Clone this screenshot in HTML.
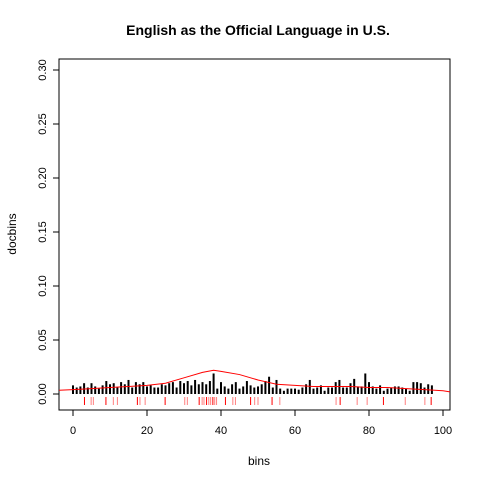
<!DOCTYPE html>
<html><head><meta charset="utf-8"><style>
body{margin:0;background:#fff}
svg{display:block;font-family:"Liberation Sans",sans-serif}
</style></head><body>
<svg id="c" width="480" height="480">
<text x="258" y="35" text-anchor="middle" font-size="14" font-weight="bold">English as the Official Language in U.S.</text>
<rect x="59" y="59" width="391" height="351" fill="none" stroke="#000"/>
<text x="259" y="465" text-anchor="middle" font-size="12">bins</text>
<text x="16" y="234" text-anchor="middle" font-size="12" transform="rotate(-90 16 234)">docbins</text>
<g id="g"></g>
</svg>
<script>
const binVals=[8,6,7,10,6,10,7,5,8,12, 9,10,6,11,9,13,6,11,9,11, 7,8,6,6,9,8,10,11,6,12, 10,12,8,13,9,11,9,12,19,5, 11,7,5,9,11,5,7,12,8,6, 7,9,12,16,6,13,5,3,5,5, 5,4,6,9,13,5,6,8,3,6, 6,11,13,6,6,10,14,7,7,19, 11,7,5,8,3,5,6,7,7,6, 5,3,11,11,10,6,9,8];
const curveX=[-5,0,5,10,15,20,25,30,35,38,40,45,50,55,60,65,70,75,80,85,90,95,100,105];
const curveY=[3.5,4,5,6,7,8,10,15,20,22,21,18,13,9,8,7,7,7,6,6,5,4,3,2];
const rugX=[3.1,4.9,5.5,8.9,10.9,12,17.4,18.1,19.5,24.9,30.2,30.9,34.1,34.9,35.4,36.1,36.7,37.2,37.8,38.3,38.8,41.2,43.2,43.9,48,49.1,50,53.8,55.9,71.1,72.2,76.8,79.5,83.9,89.8,95.1,96.8];
const xTicks=[0,20,40,60,80,100];
const yTicks=[0,0.05,0.1,0.15,0.2,0.25,0.3];
const yLabels=["0.00","0.05","0.10","0.15","0.20","0.25","0.30"];
const X=v=>73+v*3.7, Y=v=>394-v*1080;
const g=document.getElementById('g'),NS='http://www.w3.org/2000/svg';
function mk(t,a){const e=document.createElementNS(NS,t);for(const k in a)e.setAttribute(k,a[k]);g.appendChild(e);return e;}
binVals.forEach((v,i)=>{const e=mk('rect',{x:X(i)-1,y:Y(v/1000),width:2,height:v/1000*1080,fill:'#000'});

});
let d='';curveX.forEach((x,i)=>{d+=(i?'L':'M')+Math.max(59,Math.min(450,X(x)))+' '+Y(curveY[i]/1000);});
const p=mk('path',{d:d,fill:'none',stroke:'#f00','stroke-width':1});


rugX.forEach((x,i)=>{const e=mk('line',{x1:X(x),x2:X(x),y1:397,y2:405,stroke:'#f00','stroke-opacity':0.5+0.5*(i%3==0)});

});
xTicks.forEach(t=>{const l=mk('line',{x1:X(t),x2:X(t),y1:410,y2:416,stroke:'#000'});


const s=mk('text',{x:X(t),y:434,'text-anchor':'middle','font-size':11});s.textContent=t;

});
yTicks.forEach((t,i)=>{const l=mk('line',{x1:53,x2:59,y1:Y(t),y2:Y(t),stroke:'#000'});


const s=mk('text',{x:46,y:Y(t),'text-anchor':'middle','font-size':11,transform:'rotate(-90 46 '+Y(t)+')'});s.textContent=yLabels[i];

});
</script>
</body></html>
